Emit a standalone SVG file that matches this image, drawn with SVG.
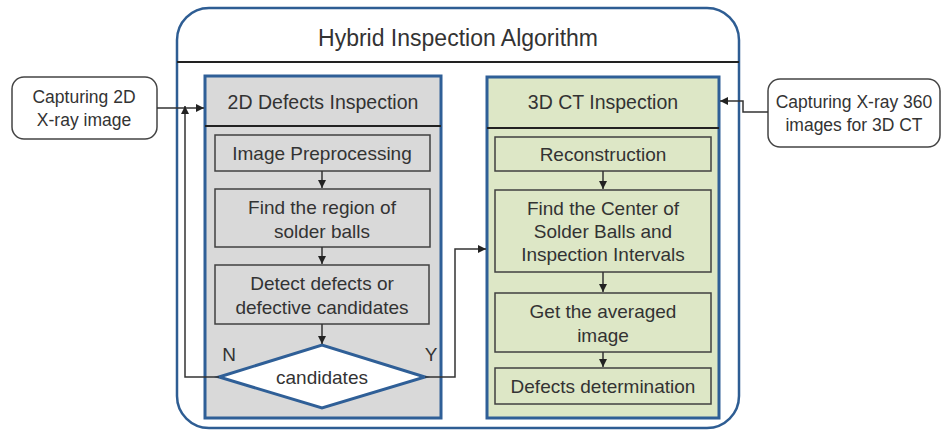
<svg xmlns="http://www.w3.org/2000/svg" width="951" height="430" viewBox="0 0 951 430">
<defs>
<style>
text{font-family:"Liberation Sans",Arial,sans-serif;fill:#333;text-anchor:middle}
.t{font-size:23px}
.h{font-size:19.5px}
.b{font-size:19px}
.k{font-size:17.5px}
.cap{fill:#fff;stroke:#444;stroke-width:1.5}
.pl{stroke:#2f5f97;stroke-width:3}
.ib{stroke:#404040;stroke-width:1.5}
.c{fill:none;stroke:#333;stroke-width:1.5}
</style>
<marker id="ah" viewBox="0 0 10 10" refX="10" refY="5" markerWidth="8" markerHeight="8" markerUnits="userSpaceOnUse" orient="auto"><path d="M0,0L10,5L0,10z" fill="#222"/></marker>
</defs>
<rect width="951" height="430" fill="#fff"/>
<g id="outer">
<rect x="177" y="8" width="562" height="420" rx="32" fill="#fff" stroke="#2e5d93" stroke-width="2.5"/>
<line x1="177" y1="62" x2="739" y2="62" stroke="#222" stroke-width="2"/>
<text class="t" x="458" y="46">Hybrid Inspection Algorithm</text>
</g>
<g id="panel2d">
<rect class="pl" x="205" y="76" width="236" height="342" fill="#d9d9d9"/>
<line x1="205" y1="126" x2="441" y2="126" stroke="#222" stroke-width="2"/>
<text class="h" x="323" y="109">2D Defects Inspection</text>
</g>
<g id="panel3d">
<rect class="pl" x="487" y="77" width="232" height="341" fill="#dde7c6"/>
<line x1="487" y1="128" x2="719" y2="128" stroke="#222" stroke-width="2"/>
<text class="h" x="603" y="109">3D CT Inspection</text>
</g>
<g id="cap2d">
<rect class="cap" x="12" y="77" width="145" height="62" rx="12"/>
<text class="k" x="84" y="103">Capturing 2D</text>
<text class="k" x="84" y="126">X-ray image</text>
</g>
<g id="cap3d">
<rect class="cap" x="768" y="79" width="172" height="68" rx="12"/>
<text class="k" x="854" y="108">Capturing X-ray 360</text>
<text class="k" x="854" y="131">images for 3D CT</text>
</g>
<g id="pre">
<rect class="ib" x="215" y="135" width="215" height="36" fill="#d9d9d9"/>
<text class="b" x="322" y="160">Image Preprocessing</text>
</g>
<g id="region">
<rect class="ib" x="215" y="189" width="215" height="58" fill="#d9d9d9"/>
<text class="b" x="322" y="214">Find the region of</text>
<text class="b" x="322" y="238">solder balls</text>
</g>
<g id="detect">
<rect class="ib" x="215" y="265" width="214" height="59" fill="#d9d9d9"/>
<text class="b" x="322" y="290">Detect defects or</text>
<text class="b" x="322" y="314">defective candidates</text>
</g>
<g id="decision">
<polygon points="219,377 322,345 425,377 322,408" fill="#fff" stroke="#2f5f97" stroke-width="3"/>
<text class="b" x="322" y="384">candidates</text>
</g>
<g id="recon">
<rect class="ib" x="495" y="137" width="216" height="34" fill="#dde7c6"/>
<text class="b" x="603" y="161">Reconstruction</text>
</g>
<g id="center">
<rect class="ib" x="495" y="190" width="216" height="82" fill="#dde7c6"/>
<text class="b" x="603" y="215">Find the Center of</text>
<text class="b" x="603" y="238">Solder Balls and</text>
<text class="b" x="603" y="261">Inspection Intervals</text>
</g>
<g id="avg">
<rect class="ib" x="495" y="293" width="216" height="59" fill="#dde7c6"/>
<text class="b" x="603" y="318">Get the averaged</text>
<text class="b" x="603" y="342">image</text>
</g>
<g id="determ">
<rect class="ib" x="495" y="368" width="216" height="36" fill="#dde7c6"/>
<text class="b" x="603" y="393">Defects determination</text>
</g>
<g id="connectors">
<path class="c" d="M157,108H204" marker-end="url(#ah)"/>
<path class="c" d="M219,377H185V106" marker-end="url(#ah)"/>
<path class="c" d="M425,377H455V249H486" marker-end="url(#ah)"/>
<path class="c" d="M768,112H743V101H720" marker-end="url(#ah)"/>
<path class="c" d="M322,171V188" marker-end="url(#ah)"/>
<path class="c" d="M322,247V264" marker-end="url(#ah)"/>
<path class="c" d="M322,324V344" marker-end="url(#ah)"/>
<path class="c" d="M603,171V189" marker-end="url(#ah)"/>
<path class="c" d="M603,272V292" marker-end="url(#ah)"/>
<path class="c" d="M603,352V367" marker-end="url(#ah)"/>
<text class="b" x="229" y="361">N</text>
<text class="b" x="431" y="361">Y</text>
</g>
</svg>
